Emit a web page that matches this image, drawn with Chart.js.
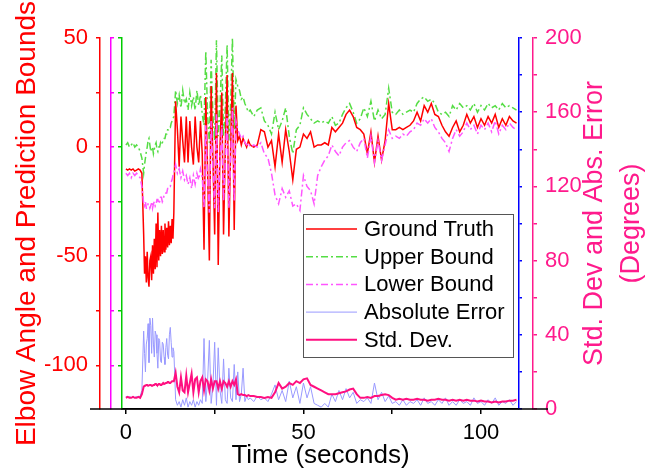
<!DOCTYPE html>
<html>
<head>
<meta charset="utf-8">
<script src="https://cdn.jsdelivr.net/npm/chart.js@4/dist/chart.umd.min.js"></script>
<style>
    html, body { margin: 0; padding: 0; background: #fff; }
</style>
</head>
<body>
<canvas id="chart" width="658" height="471"></canvas>
<script>
//=================================================
//Data
//=================================================
const time = [
    0, 0.5, 1, 1.5, 2, 2.5, 3, 3.5, 4, 4.5,
    5, 5.25, 5.5, 5.75, 6, 6.25, 6.5, 6.75, 7, 7.25,
    7.5, 7.75, 8, 8.25, 8.5, 8.75, 9, 9.25, 9.5, 9.75,
    10, 10.25, 10.5, 10.75, 11, 11.25, 11.5, 11.75, 12, 12.25,
    12.5, 12.75, 13, 13.25, 13.5,
    14, 14.5,
    15, 15.5, 16, 16.5, 17, 17.5, 18, 18.5, 19, 19.5,
    20, 20.5, 21, 21.5, 22, 22.5, 23, 23.5, 24, 24.5,
    25, 25.5, 26, 26.5, 27, 27.5, 28, 28.5, 29, 29.5,
    30, 30.5, 31, 31.5, 32, 32.5, 33, 33.5, 34, 34.5,
    35,
    36, 37, 38, 39, 40, 41, 42, 43, 44, 45,
    46, 47, 48, 49, 50, 51, 52, 53, 54, 55,
    56, 57, 58, 59, 60, 61, 62, 63, 64, 65,
    66, 67, 68, 69, 70, 71, 72, 73, 74, 75,
    76, 77, 78, 79, 80, 81, 82, 83, 84, 85,
    86, 87, 88, 89, 90, 91, 92, 93, 94, 95,
    96, 97, 98, 99, 100, 101, 102, 103, 104, 105,
    106, 107, 108, 109, 110,
];

const groundTruth = [
    -10, -10.5, -10, -10.5, -10, -11, -10.5, -10, -10.5, -12,
    -40, -58, -50, -62, -48, -60, -64, -52, -50, -61,
    -45, -58, -42, -56, -35, -55, -30, -52, -38, -50,
    -36, -49, -38, -48, -35, -47, -37, -46, -34, -45,
    -36, -44, -33, -42, -30,
    21, 8,
    -9, 14, 3, -7, 14, -7, 12, 0, -8, 14,
    0, -7, 12, -3, -47, 23, -10, -52, 28, -5,
    -40, 34, -54, 0, 25, -40, 0, 33, -41, 0,
    34, -38, 19, 3, 5, 1, 4, 2, 0, 3,
    1,
    0, 1, 8, 7, 0, 3, -9, 6, -7, 8,
    -2, -15, -1, 0, 6, 4, 7, 0, 1, 1,
    2, 1, 9, 7, 9, 11, 15, 17, 14, 9,
    8, 6, -3, 7, -7, 5, -6, 3, 20, 8,
    8, 9, 8, 9, 10, 12, 16, 12, 19, 16,
    20, 15, 14, 10, 7, 5, 9, 12, 7, 10,
    15, 11, 14, 9, 13, 10, 14, 11, 15, 9,
    13, 10, 14, 12, 11,
];

const upperBound = [
    1, 2, 0, 1, 2, 0, 1, 0, -2, -5,
    -12, -8, -5, -2, 0, 3, 4, 1, -2, 0,
    0, -3, -1, 1, 2, -1, -2, 0, 0, 2,
    1, 2, 3, 4, 4, 6, 6, 8, 8, 9,
    9, 11, 12, 13, 14,
    26, 20,
    24, 18, 26, 20, 22, 17, 25, 19, 23, 17,
    26, 19, 24, 15, 10, 44, 15, 2, 40, 15,
    3, 49, 5, 18, 42, 5, 18, 47, 3, 20,
    50, 8, 31, 28, 26, 22, 23, 20, 18, 16,
    17,
    14, 17, 18, 12, 10, 6, 16, 8, 12, 18,
    5, -3, 8, 10, 18, 15, 13, 11, 12, 11,
    12, 11, 14, 10, 11, 15, 18, 20, 16, 11,
    13, 18, 14, 21, 12, 17, 13, 15, 27, 16,
    15, 17, 15, 16, 17, 16, 20, 22, 23, 21,
    22, 20, 16, 15, 16, 14, 19, 17, 20, 18,
    19, 17, 20, 16, 19, 17, 20, 18, 19, 17,
    20, 18, 19, 18, 17,
];

const lowerBound = [
    -12, -13, -12, -14, -12, -13, -12, -13, -14, -18,
    -26, -27, -25, -28, -28, -26, -26, -28, -27, -25,
    -28, -26, -25, -27, -26, -24, -24, -26, -25, -23,
    -23, -25, -24, -22, -22, -21, -21, -19, -19, -18,
    -18, -16, -15, -13, -12,
    -8, -12,
    -10, -14, -11, -15, -13, -17, -14, -19, -13, -17,
    -12, -15, -10, -14, -28, 10, -15, -30, 12, -10,
    -28, 15, -30, -5, 10, -25, -5, 15, -28, -5,
    18, -25, 12, 8, 6, 4, 5, 2, 1, 2,
    0,
    1, 0, 2, -3, -5, -12, -22, -26, -19, -23,
    -20, -27, -26, -29, -13, -18, -20, -26, -13, -9,
    -6, -4, 1, -2, -4, 0, 2, 3, 0, -2,
    2, 4, -5, 5, -7, 3, -6, 1, 8, 4,
    5, 4, 6, 5, 7, 8, 11, 10, 13, 11,
    13, 9, 7, 4, 2, -2, 4, 8, 5, 7,
    11, 8, 10, 6, 10, 8, 11, 7, 12, 6,
    10, 8, 11, 9, 8,
];

const absError = [
    7, 6, 7, 6, 7, 6, 7, 6, 7, 10,
    42, 30, 20, 35, 38, 46, 25, 49, 45, 30,
    49, 35, 28, 42, 40, 30, 22, 38, 37, 26,
    25, 36, 35, 28, 24, 33, 38, 29, 27, 40,
    44, 36, 28, 33, 31,
    5, 2,
    4, 1, 5, 2, 6, 1, 4, 2, 5, 1,
    4, 2, 5, 3, 38, 4, 15, 37, 3, 12,
    36, 2, 33, 10, 3, 27, 5, 3, 22, 6,
    4, 24, 5, 20, 4, 8, 22, 4, 7, 5,
    6,
    4, 7, 5, 6, 4, 8, 13, 5, 10, 4,
    15, 6, 12, 3, 14, 6, 12, 3, 2, 1,
    3, 1, 8, 4, 10, 5, 11, 6, 9, 3,
    5, 4, 6, 3, 14, 5, 9, 4, 7, 3,
    4, 2, 5, 2, 4, 3, 5, 2, 6, 3,
    4, 2, 5, 3, 6, 2, 4, 2, 5, 3,
    4, 2, 6, 3, 4, 2, 5, 3, 6, 2,
    4, 3, 5, 2, 4,
];

const stdDev = [
    6, 6.5, 6, 6, 6.5, 6, 6, 6.5, 6, 8,
    12, 12.5, 12.5, 13, 13, 12.5, 12.5, 13, 13, 12.5,
    12.5, 13, 13, 13.5, 13.5, 13, 13, 13.5, 13.5, 13,
    13, 13.5, 14, 13.5, 13.5, 14, 14, 14.5, 14.5, 14,
    14, 14.5, 15, 15, 15,
    19.5, 12,
    9, 17, 10, 9, 18, 9, 14, 19, 9, 16,
    17, 9, 15, 17, 10, 16, 15, 10, 16, 11,
    15, 15, 11, 15, 11, 15, 14, 12, 15, 12,
    15, 13, 16, 8, 7.5, 8, 7.5, 7.5, 7, 7.5,
    7,
    7, 6.5, 6.5, 6, 6.5, 6, 9, 14, 11, 12,
    14, 13, 15, 14, 16, 16.5, 13, 12, 11, 10,
    9, 8, 8, 8, 8.5, 9, 9.5, 10.5, 11, 8,
    6, 6, 6.5, 6, 7, 7, 7.5, 8, 7.5, 6,
    5, 5.5, 5, 5.5, 5, 5, 5.5, 5, 5, 4.5,
    5, 5, 5.5, 5, 5, 4.5, 5, 4.5, 5, 4.5,
    5, 4.5, 4.5, 4, 4.5, 4, 4, 3.5, 4, 3.5,
    4, 4, 4.5, 4.5, 5,
];

const leftTitle = "Elbow Angle and Prediction Bounds";
const rightTitle = ["Std. Dev and Abs. Error", "(Degrees)"];
const xTitle = "Time (seconds)";

//=================================================
//Helpers
//=================================================
const FONT = "'Liberation Sans', Arial, Helvetica, sans-serif";
const RED = "#ff0000";
const MAGENTA = "#ff00ff";
const GREEN = "#00cc00";
const BLUE = "#0000ff";
const PINK = "#ff1a8c";
const DASH_DOT = [7, 3, 2, 3];

const toPoints = (values) => values.map((v, i) => ({ x: time[i], y: v }));
const fixWidth = (w) => (scale) => { scale.width = w; };

const plainAxis = (color, pos, weight, min, max, step, tickLen, width) => ({
    position: pos,
    weight: weight,
    min: min,
    max: max,
    border: { color: color, width: 1.5 },
    grid: {
        drawOnChartArea: false,
        tickLength: tickLen,
        color: color,
        lineWidth: 1.5,
    },
    ticks: { display: false, stepSize: step, includeBounds: false },
    afterFit: fixWidth(width),
});

//=================================================
//Plugins: inside legend, right title, long x baseline
//=================================================
const decorations = {
    id: "decorations",
    beforeDatasetsDraw(chart) {
        const { ctx, chartArea } = chart;
        const x = chart.scales.x;
        const y2 = chart.scales.y2;
        ctx.save();
        ctx.strokeStyle = "#000";
        ctx.lineWidth = 1.5;
        ctx.beginPath();
        ctx.moveTo(chartArea.left - 32, x.top);
        ctx.lineTo(y2.left + 15, x.top);
        ctx.stroke();
        ctx.restore();
    },
    afterDraw(chart) {
        const { ctx, chartArea } = chart;
        const y2 = chart.scales.y2;
        const midY = (chartArea.top + chartArea.bottom) / 2;

        // right axis title, reading bottom to top
        ctx.save();
        ctx.fillStyle = PINK;
        ctx.font = "27px " + FONT;
        ctx.textAlign = "center";
        ctx.textBaseline = "middle";
        rightTitle.forEach((line, i) => {
            ctx.save();
            ctx.translate(y2.left + 62 + i * 37, midY);
            ctx.rotate(-Math.PI / 2);
            ctx.fillText(line, 0, 0);
            ctx.restore();
        });
        ctx.restore();

        // legend inside the plot
        const box = { x: chartArea.left + 181, y: chartArea.top + 176, w: 210, h: 143 };
        ctx.save();
        ctx.fillStyle = "#fff";
        ctx.fillRect(box.x, box.y, box.w, box.h);
        ctx.strokeStyle = "#555";
        ctx.lineWidth = 1;
        ctx.strokeRect(box.x + 0.5, box.y + 0.5, box.w, box.h);
        ctx.font = "22px " + FONT;
        ctx.textBaseline = "middle";
        ctx.textAlign = "left";
        chart.data.datasets.forEach((ds, i) => {
            const cy = box.y + 15 + i * 27.7;
            ctx.save();
            ctx.strokeStyle = ds.borderColor;
            ctx.lineWidth = ds.borderWidth;
            ctx.setLineDash(ds.borderDash || []);
            ctx.beginPath();
            ctx.moveTo(box.x + 3, cy);
            ctx.lineTo(box.x + 54, cy);
            ctx.stroke();
            ctx.restore();
            ctx.fillStyle = "#000";
            ctx.fillText(ds.label, box.x + 61, cy + 1);
        });
        ctx.restore();
    },
};

//=================================================
//Chart.js
//=================================================
const drawChart = () => {
    Chart.defaults.font.family = FONT;

    const data = {
        datasets: [
            {
                label: "Ground Truth",
                data: toPoints(groundTruth),
                borderColor: RED,
                borderWidth: 1.5,
                yAxisID: "y",
                order: 4,
            },
            {
                label: "Upper Bound",
                data: toPoints(upperBound),
                borderColor: "#55dd44",
                borderWidth: 1.5,
                borderDash: DASH_DOT,
                yAxisID: "yGreen",
                order: 5,
            },
            {
                label: "Lower Bound",
                data: toPoints(lowerBound),
                borderColor: "#ff55ff",
                borderWidth: 1.5,
                borderDash: DASH_DOT,
                yAxisID: "yMag",
                order: 3,
            },
            {
                label: "Absolute Error",
                data: toPoints(absError),
                borderColor: "#9999ff",
                borderWidth: 1,
                yAxisID: "yBlue",
                order: 2,
            },
            {
                label: "Std. Dev.",
                data: toPoints(stdDev),
                borderColor: "#ff0f80",
                borderWidth: 2,
                yAxisID: "y2",
                order: 1,
            },
        ],
    };

    const config = {
        type: "line",
        data: data,
        options: {
            responsive: false,
            animation: false,
            events: [],
            elements: {
                point: { radius: 0 },
                line: { tension: 0 },
            },
            layout: {
                padding: { top: 38, left: 0, right: 0, bottom: 0 },
            },
            scales: {
                x: {
                    type: "linear",
                    min: -1.1,
                    max: 110.7,
                    border: { color: "#000", width: 1.5 },
                    grid: {
                        drawOnChartArea: false,
                        tickLength: 5,
                        color: "#000",
                        lineWidth: 1.5,
                    },
                    ticks: {
                        stepSize: 25,
                        includeBounds: false,
                        autoSkip: false,
                        maxRotation: 0,
                        padding: 6,
                        color: "#000",
                        font: { size: 22 },
                        callback: (v) => (v % 50 === 0 ? v : ""),
                    },
                    title: {
                        display: true,
                        text: xTitle,
                        color: "#000",
                        font: { size: 26 },
                        padding: 0,
                    },
                    afterFit: (scale) => { scale.height = 62; },
                },
                y: {
                    position: "left",
                    weight: 2,
                    min: -120,
                    max: 50,
                    border: { color: RED, width: 1.5 },
                    grid: {
                        drawOnChartArea: false,
                        tickLength: 4,
                        color: RED,
                        lineWidth: 1.5,
                    },
                    ticks: {
                        stepSize: 25,
                        includeBounds: false,
                        autoSkip: false,
                        padding: 8,
                        color: RED,
                        font: { size: 22 },
                        callback: (v) => (v % 50 === 0 ? v : ""),
                    },
                    title: {
                        display: true,
                        text: leftTitle,
                        color: RED,
                        font: { size: 28 },
                        padding: { top: 10, bottom: 0 },
                    },
                    afterFit: fixWidth(100),
                },
                yMag: plainAxis(MAGENTA, "left", 1, -120, 50, 25, -3, 11),
                yGreen: plainAxis(GREEN, "left", 0, -120, 50, 25, 4, 11),
                yBlue: plainAxis(BLUE, "right", 0, 0, 200, 20, 3, 14),
                y2: {
                    position: "right",
                    weight: 1,
                    min: 0,
                    max: 200,
                    border: { color: PINK, width: 1.5 },
                    grid: {
                        drawOnChartArea: false,
                        tickLength: 4,
                        color: PINK,
                        lineWidth: 1.5,
                    },
                    ticks: {
                        stepSize: 20,
                        autoSkip: false,
                        padding: 8,
                        color: PINK,
                        font: { size: 22 },
                        callback: (v) => (v % 40 === 0 ? v : ""),
                    },
                    afterFit: fixWidth(125),
                },
            },
            plugins: {
                legend: { display: false },
                tooltip: { enabled: false },
            },
        },
        plugins: [decorations],
    };

    new Chart(document.getElementById("chart"), config);
};

drawChart();
</script>
</body>
</html>
